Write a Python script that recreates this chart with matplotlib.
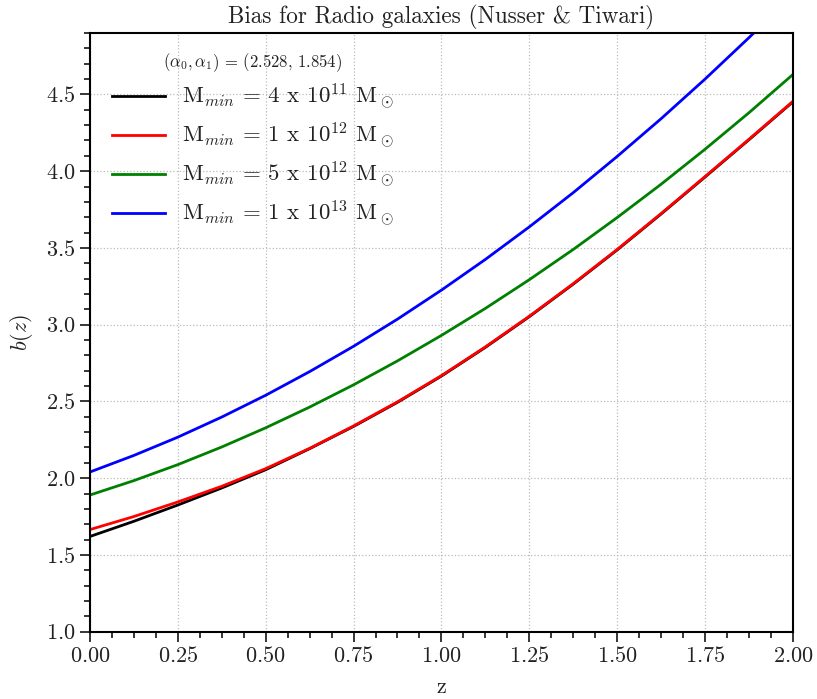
import matplotlib
matplotlib.use("Agg")
from matplotlib import pyplot as plt
from matplotlib.ticker import MultipleLocator

plt.rcParams['font.family'] = 'serif'
plt.rcParams['font.serif'] = ['cmr10']
plt.rcParams['mathtext.fontset'] = 'cm'
plt.rcParams['axes.formatter.use_mathtext'] = True

# bias b(z) for each minimum halo mass, sampled every 0.125 in z
z = [0.0, 0.125, 0.25, 0.375, 0.5, 0.625, 0.75, 0.875, 1.0,
     1.125, 1.25, 1.375, 1.5, 1.625, 1.75, 1.875, 2.0]
b_4e11 = [1.620, 1.719, 1.825, 1.936, 2.055, 2.192, 2.337, 2.494, 2.665,
          2.852, 3.052, 3.264, 3.487, 3.721, 3.962, 4.205, 4.452]
b_1e12 = [1.665, 1.750, 1.845, 1.947, 2.062, 2.194, 2.340, 2.497, 2.668,
          2.855, 3.055, 3.267, 3.490, 3.724, 3.965, 4.208, 4.455]
b_5e12 = [1.890, 1.984, 2.088, 2.203, 2.328, 2.463, 2.608, 2.764, 2.930,
          3.106, 3.293, 3.490, 3.698, 3.915, 4.143, 4.381, 4.630]
b_1e13 = [2.040, 2.148, 2.267, 2.398, 2.540, 2.694, 2.859, 3.036, 3.225,
          3.425, 3.637, 3.860, 4.096, 4.342, 4.600, 4.870, 5.151]

labels = [r'M$_{min}$ = 4 x 10$^{11}$ M$_\odot$',
          r'M$_{min}$ = 1 x 10$^{12}$ M$_\odot$',
          r'M$_{min}$ = 5 x 10$^{12}$ M$_\odot$',
          r'M$_{min}$ = 1 x 10$^{13}$ M$_\odot$']
colors = ['black', 'red', 'green', 'blue']

fig = plt.figure(figsize=(8.17, 6.99), dpi=100)
ax = fig.add_axes([0.110, 0.0963, 0.8606, 0.8565])

for b, lab, c in zip([b_4e11, b_1e12, b_5e12, b_1e13], labels, colors):
    ax.plot(z, b, color=c, lw=2, label=lab)

ax.set_xlim(0, 2)
ax.set_ylim(1.0, 4.9)
ax.xaxis.set_major_locator(MultipleLocator(0.25))
ax.xaxis.set_minor_locator(MultipleLocator(0.0625))
ax.yaxis.set_major_locator(MultipleLocator(0.5))
ax.yaxis.set_minor_locator(MultipleLocator(0.1))
ax.tick_params(which='both', direction='out', labelsize=16, width=1.1,
               labelcolor='#222222')
ax.tick_params(which='major', length=7)
ax.tick_params(which='minor', length=4)
ax.grid(True, which='major', ls=':', color='#bbbbbb', lw=0.9)
for s in ax.spines.values():
    s.set_linewidth(1.5)

ax.set_title('Bias for Radio galaxies (Nusser & Tiwari)', fontsize=16.7,
             pad=7, color='#222222')
ax.set_xlabel('z', fontsize=16, labelpad=8, color='#222222')
ax.set_ylabel(r'$b(z)$', fontsize=16, labelpad=8, color='#222222')

leg = ax.legend(loc='upper left', bbox_to_anchor=(0, 1.007), frameon=False,
                fontsize=16.5,
                title=r'$(\alpha_0, \alpha_1)$ = (2.528, 1.854)',
                title_fontsize=12, handlelength=2.3, handletextpad=0.75,
                labelspacing=0.38, borderaxespad=0.56)
for t in leg.get_texts():
    t.set_color('#222222')
leg.get_title().set_color('#222222')

fig.savefig('out.png', dpi=100)
